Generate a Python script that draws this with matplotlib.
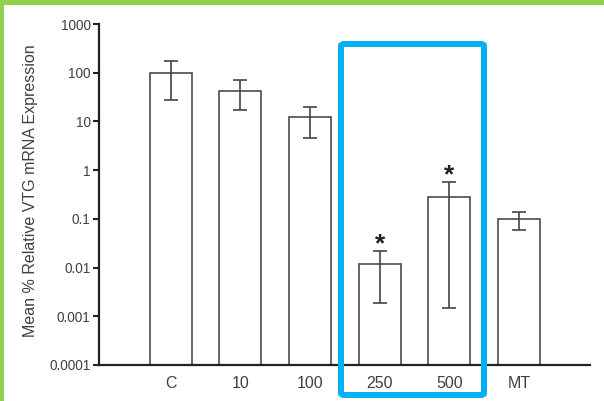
import numpy as np
import matplotlib
matplotlib.use('Agg')
import matplotlib.pyplot as plt
from matplotlib.patches import FancyBboxPatch, Rectangle

plt.rc('font', family=['Liberation Sans', 'DejaVu Sans'])

# Data
groups = ['C', '10', '100', '250', '500', 'MT']
means = [100, 42, 12.4, 0.0118, 0.28, 0.1]
err_hi = [174, 71, 20, 0.022, 0.57, 0.138]
err_lo = [27.5, 17, 4.6, 0.0019, 0.0015, 0.059]
starred = ['250', '500']

TEXT = '#404040'
fig = plt.figure(figsize=(6.04, 4.01), dpi=100)
ax = fig.add_axes([99 / 604, 36 / 401, 491 / 604, 341 / 401])

x = np.arange(len(groups))
yerr = [np.array(means) - np.array(err_lo), np.array(err_hi) - np.array(means)]
ax.bar(x, means, width=0.6, color='white', edgecolor='#4a4a4a', linewidth=1.2, zorder=2)
ax.errorbar(x, means, yerr=yerr, fmt='none', ecolor='#444444', elinewidth=1.2,
            capsize=4.7, capthick=1.2, zorder=3)

for g, top in zip(groups, err_hi):
    if g in starred:
        ax.annotate('*', (groups.index(g), top), xytext=(0, -4), textcoords='offset points',
                    ha='center', va='bottom', fontsize=19, fontweight='bold', color='#222222')

ax.set_yscale('log')
ax.set_ylim(1e-4, 1e3)
ax.set_xlim(-1.03, 6.02)
ax.set_xticks(x)
ax.set_xticklabels(groups)
ax.set_yticks([1e-4, 1e-3, 1e-2, 0.1, 1, 10, 100, 1000])
ax.set_yticklabels(['0.0001', '0.001', '0.01', '0.1', '1', '10', '100', '1000'])
ax.yaxis.set_minor_locator(matplotlib.ticker.NullLocator())
ax.tick_params(axis='y', length=4, width=1.5, color='#222222', labelsize=9.8, labelcolor=TEXT, pad=2)
ax.tick_params(axis='x', length=0, labelsize=11.5, labelcolor=TEXT, pad=8)
for s in ['top', 'right']:
    ax.spines[s].set_visible(False)
for s in ['left', 'bottom']:
    ax.spines[s].set_linewidth(1.6)
    ax.spines[s].set_color('#222222')
ax.set_ylabel('Mean % Relative VTG mRNA Expression', fontsize=11.5, color=TEXT)
ax.yaxis.set_label_coords(-0.125, 0.51)

# green frame on top and left of the picture
fig.patches.append(Rectangle((0, 1 - 5 / 401), 1, 5 / 401, transform=fig.transFigure,
                             facecolor='#92D050', edgecolor='none'))
fig.patches.append(Rectangle((0, 0), 4 / 604, 1, transform=fig.transFigure,
                             facecolor='#92D050', edgecolor='none'))

# blue highlight box around 250 and 500
fig.patches.append(FancyBboxPatch((341 / 604, (401 - 395) / 401), 143 / 604, 351 / 401,
                                  boxstyle='round,pad=0,rounding_size=0.005',
                                  transform=fig.transFigure, facecolor='none',
                                  edgecolor='#00B0F0', linewidth=4.3, zorder=5))

fig.savefig('out.png', dpi=100)
